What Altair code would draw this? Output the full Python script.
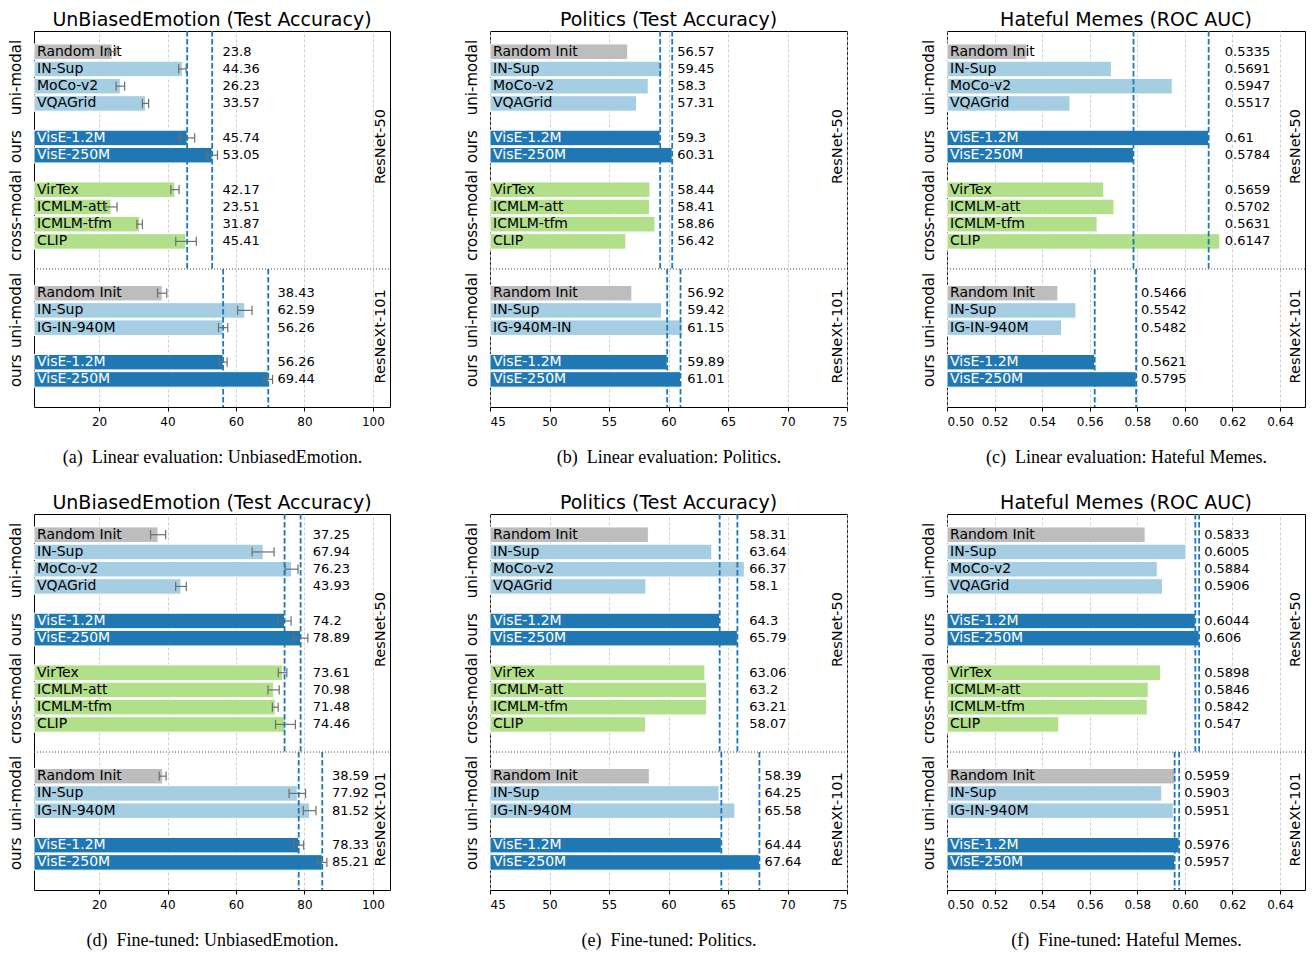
import altair as alt
import pandas as pd

# ---------------- data ----------------
TOP_NAMES = ["Random Init", "IN-Sup", "MoCo-v2", "VQAGrid", "VisE-1.2M", "VisE-250M",
             "VirTex", "ICMLM-att", "ICMLM-tfm", "CLIP"]
TOP_KINDS = ["random", "uni", "uni", "uni", "ours", "ours", "cross", "cross", "cross", "cross"]
TOP_GROUPS = [("uni-modal", 4), ("ours", 2), ("cross-modal", 4)]

BOT_NAMES = ["Random Init", "IN-Sup", "IG-IN-940M", "VisE-1.2M", "VisE-250M"]
BOT_NAMES_POL = ["Random Init", "IN-Sup", "IG-940M-IN", "VisE-1.2M", "VisE-250M"]
BOT_KINDS = ["random", "uni", "uni", "ours", "ours"]
BOT_GROUPS = [("uni-modal", 3), ("ours", 2)]

BACKBONES = ["ResNet-50", "ResNeXt-101"]

# (a) Linear evaluation: UnbiasedEmotion
a_top = [23.8, 44.36, 26.23, 33.57, 45.74, 53.05, 42.17, 23.51, 31.87, 45.41]
a_top_err = [1.1, 1.1, 1.25, 0.9, 2.2, 1.55, 1.2, 1.75, 0.8, 3.0]
a_bot = [38.43, 62.59, 56.26, 56.26, 69.44]
a_bot_err = [1.35, 2.1, 1.35, 1.15, 1.25]

# (b) Linear evaluation: Politics
b_top = [56.57, 59.45, 58.3, 57.31, 59.3, 60.31, 58.44, 58.41, 58.86, 56.42]
b_bot = [56.92, 59.42, 61.15, 59.89, 61.01]

# (c) Linear evaluation: Hateful Memes
c_top = [0.5335, 0.5691, 0.5947, 0.5517, 0.61, 0.5784, 0.5659, 0.5702, 0.5631, 0.6147]
c_bot = [0.5466, 0.5542, 0.5482, 0.5621, 0.5795]

# (d) Fine-tuned: UnbiasedEmotion
d_top = [37.25, 67.94, 76.23, 43.93, 74.2, 78.89, 73.61, 70.98, 71.48, 74.46]
d_top_err = [2.2, 3.2, 1.9, 1.55, 1.9, 2.1, 1.25, 1.65, 0.85, 2.9]
d_bot = [38.59, 77.92, 81.52, 78.33, 85.21]
d_bot_err = [1.0, 2.4, 1.85, 1.45, 1.35]

# (e) Fine-tuned: Politics
e_top = [58.31, 63.64, 66.37, 58.1, 64.3, 65.79, 63.06, 63.2, 63.21, 58.07]
e_bot = [58.39, 64.25, 65.58, 64.44, 67.64]

# (f) Fine-tuned: Hateful Memes
f_top = [0.5833, 0.6005, 0.5884, 0.5906, 0.6044, 0.606, 0.5898, 0.5846, 0.5842, 0.547]
f_bot = [0.5959, 0.5903, 0.5951, 0.5976, 0.5957]

EMO_TICKS = [20, 40, 60, 80, 100]
POL_TICKS = [45, 50, 55, 60, 65, 70, 75]
HM_TICKS = [0.50, 0.52, 0.54, 0.56, 0.58, 0.60, 0.62, 0.64]

# ---------------- styles ----------------
KIND_DOMAIN = ["random", "uni", "ours", "cross"]
KIND_COLORS = ["#bdbdbd", "#a6cee3", "#1f78b4", "#b2df8a"]
LINE_BLUE = "#1f77b4"
FONT = "DejaVu Sans"
H = 376
Y_TOP, SEP, Y_BOT = -1.2, 12.6, 20.6


def positions(groups, start):
    pos, centers, p = [], [], start
    for label, n in groups:
        rows = list(range(p, p + n))
        pos += rows
        centers.append((label, (rows[0] + rows[-1]) / 2))
        p += n + 1
    return pos, centers


def panel(title, caption, dom, ticks, fmt, top_v, top_e, bot_v, bot_e, bot_names, width):
    pos_top, cen_top = positions(TOP_GROUPS, 0)
    pos_bot, cen_bot = positions(BOT_GROUPS, pos_top[-1] + 3)
    rows, dashes = [], []
    sections = [
        (TOP_NAMES, TOP_KINDS, top_v, top_e, pos_top, Y_TOP, SEP),
        (bot_names, BOT_KINDS, bot_v, bot_e, pos_bot, SEP, Y_BOT),
    ]
    for names, kinds, vals, errs, poss, ya, yb in sections:
        errs = errs if errs else [0.0] * len(vals)
        labx = max(v + e for v, e in zip(vals, errs))
        for n, k, v, e, p in zip(names, kinds, vals, errs, poss):
            rows.append(dict(name=n, kind=k, val=v, err=e, lo=v - e, hi=v + e, pos=p,
                             base=dom[0], labx=labx, txt=str(v),
                             txtcol="white" if k == "ours" else "black"))
            if k == "ours":
                dashes.append(dict(val=v, ya=ya, yb=yb))
    df = pd.DataFrame(rows)
    ddf = pd.DataFrame(dashes)
    gdf = pd.DataFrame([dict(label=l, pos=c) for l, c in cen_top + cen_bot])
    bdf = pd.DataFrame([dict(label=BACKBONES[0], pos=(pos_top[0] + pos_top[-1]) / 2),
                        dict(label=BACKBONES[1], pos=(pos_bot[0] + pos_bot[-1]) / 2)])

    xscale = alt.Scale(domain=dom, nice=False, zero=False)
    xaxis = alt.Axis(values=ticks, format=fmt, title=caption)
    yscale = alt.Scale(domain=[Y_TOP, Y_BOT], reverse=True, nice=False, zero=False)

    def X(f):
        return alt.X(f, type="quantitative", scale=xscale, axis=xaxis)

    def Y(f):
        return alt.Y(f, type="quantitative", scale=yscale, axis=None)

    base = alt.Chart(df)
    bars = base.transform_calculate(y0="datum.pos - 0.45", y1="datum.pos + 0.45").mark_bar(
        stroke="white", strokeWidth=1).encode(
        x=X("val"), x2="base", y=Y("y0"), y2="y1",
        color=alt.Color("kind:N", scale=alt.Scale(domain=KIND_DOMAIN, range=KIND_COLORS), legend=None))
    names = base.mark_text(align="left", baseline="middle", fontSize=14, font=FONT).encode(
        x=alt.value(3), y=Y("pos"), text="name:N", color=alt.Color("txtcol:N", scale=None))
    eb = base.transform_filter("datum.err > 0")
    err_line = eb.mark_rule(color="#6e6e6e", strokeWidth=1.2).encode(x=X("lo"), x2="hi", y=Y("pos"))
    caps = eb.transform_calculate(c0="datum.pos - 0.27", c1="datum.pos + 0.27")
    cap_lo = caps.mark_rule(color="#6e6e6e", strokeWidth=1.2).encode(x=X("lo"), y=Y("c0"), y2="c1")
    cap_hi = caps.mark_rule(color="#6e6e6e", strokeWidth=1.2).encode(x=X("hi"), y=Y("c0"), y2="c1")
    dash = alt.Chart(ddf).mark_rule(color=LINE_BLUE, strokeWidth=1.8, strokeDash=[5.5, 2.5]).encode(
        x=X("val"), y=Y("ya"), y2="yb")
    sep = alt.Chart(pd.DataFrame({"y": [SEP]})).mark_rule(
        color="#444444", strokeWidth=1, strokeDash=[1, 2]).encode(
        x=alt.value(0), x2=alt.value(width), y=Y("y"))
    vals = base.mark_text(align="left", baseline="middle", fontSize=13, font=FONT, dx=5,
                          color="black").encode(x=X("labx"), y=Y("pos"), text="txt:N")
    groups = alt.Chart(gdf).mark_text(angle=270, align="center", baseline="middle", fontSize=15,
                                      font=FONT, color="black").encode(
        x=alt.value(-18), y=Y("pos"), text="label:N")
    bb = alt.Chart(bdf).mark_text(angle=270, align="center", baseline="middle", fontSize=14.5,
                                  font=FONT, color="black").encode(
        x=alt.value(width - 9), y=Y("pos"), text="label:N")

    return alt.layer(bars, names, err_line, cap_lo, cap_hi, dash, sep, vals, groups, bb).properties(
        width=width, height=H,
        title=alt.TitleParams(text=title, fontSize=19, font=FONT, fontWeight="normal",
                              color="black", offset=0, anchor="middle"))


T_EMO = "UnBiasedEmotion (Test Accuracy)"
T_POL = "Politics (Test Accuracy)"
T_HM = "Hateful Memes (ROC AUC)"
NB = "\u00a0\u00a0"

pa = panel(T_EMO, "(a)" + NB + "Linear evaluation: UnbiasedEmotion.", [1, 105], EMO_TICKS, "d",
           a_top, a_top_err, a_bot, a_bot_err, BOT_NAMES, 356)
pb = panel(T_POL, "(b)" + NB + "Linear evaluation: Politics.", [45, 75], POL_TICKS, "d",
           b_top, None, b_bot, None, BOT_NAMES_POL, 357)
pc = panel(T_HM, "(c)" + NB + "Linear evaluation: Hateful Memes.", [0.5, 0.6505], HM_TICKS, ".2f",
           c_top, None, c_bot, None, BOT_NAMES, 358)
pd_ = panel(T_EMO, "(d)" + NB + "Fine-tuned: UnbiasedEmotion.", [1, 105], EMO_TICKS, "d",
            d_top, d_top_err, d_bot, d_bot_err, BOT_NAMES, 356)
pe = panel(T_POL, "(e)" + NB + "Fine-tuned: Politics.", [45, 75], POL_TICKS, "d",
           e_top, None, e_bot, None, BOT_NAMES, 357)
pf = panel(T_HM, "(f)" + NB + "Fine-tuned: Hateful Memes.", [0.5, 0.6505], HM_TICKS, ".2f",
           f_top, None, f_bot, None, BOT_NAMES, 358)

chart = alt.concat(pa, pb, pc, pd_, pe, pf, columns=3,
                   spacing={"row": 107, "column": 100}, bounds="flush").properties(
    padding={"left": 0, "top": 2, "right": 0, "bottom": 0},
    background="white",
).configure_view(stroke="black", strokeWidth=1).configure_axis(
    labelFont=FONT, labelFontSize=12, labelColor="black", labelPadding=5,
    tickColor="black", tickSize=4, domain=False,
    grid=True, gridColor="#c4c4c4", gridDash=[3, 2], gridWidth=0.8,
    titleFont="Liberation Serif", titleFontSize=18, titleFontWeight="normal",
    titleColor="black", titlePadding=21,
)

chart.save("out.html", embed_options={"renderer": "svg", "actions": False})
